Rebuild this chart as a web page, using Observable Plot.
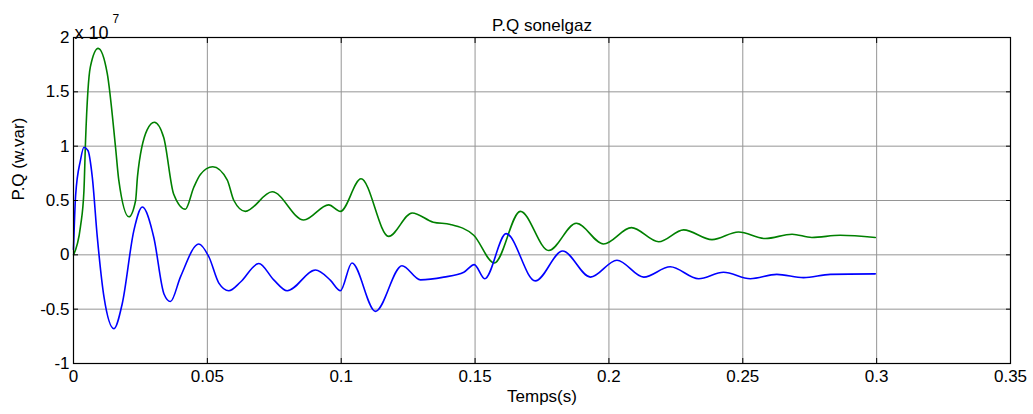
<!DOCTYPE html>
<html>
<head>
<meta charset="utf-8">
<script src="https://cdn.jsdelivr.net/npm/d3@7"></script>
<script src="https://cdn.jsdelivr.net/npm/@observablehq/plot@0.6"></script>
<style>
  html, body { margin: 0; padding: 0; background: #fff; }
  svg { display: block; }
</style>
</head>
<body>
<div id="chart"></div>
<script>
// Time (s) and values (in units of 10^7)
const greenT = [0, 0.0026, 0.0039, 0.0045, 0.0063, 0.0092, 0.0126, 0.0157, 0.0169, 0.0207, 0.0232, 0.0239, 0.0275, 0.0302, 0.0337, 0.0374, 0.0418, 0.0449, 0.0474, 0.0520, 0.0574, 0.0599, 0.0642, 0.0742, 0.0860, 0.0953, 0.0997, 0.1074, 0.1177, 0.1265, 0.1344, 0.1408, 0.1495, 0.1572, 0.1669, 0.1775, 0.1878, 0.1980, 0.2084, 0.2186, 0.2279, 0.2385, 0.2484, 0.2584, 0.2684, 0.2758, 0.2864, 0.2995];
const greenV = [0, 0.26, 0.59, 1.05, 1.73, 1.90, 1.67, 0.99, 0.69, 0.35, 0.50, 0.72, 1.15, 1.22, 1.08, 0.56, 0.42, 0.62, 0.74, 0.81, 0.69, 0.50, 0.40, 0.58, 0.32, 0.46, 0.40, 0.70, 0.17, 0.385, 0.30, 0.28, 0.18, -0.075, 0.40, 0.04, 0.29, 0.10, 0.25, 0.12, 0.23, 0.14, 0.21, 0.15, 0.19, 0.16, 0.18, 0.16];

const blueT = [0, 0.0008, 0.0026, 0.0039, 0.0054, 0.0070, 0.0089, 0.0114, 0.0151, 0.0182, 0.0226, 0.0257, 0.0300, 0.0338, 0.0362, 0.0400, 0.0468, 0.0506, 0.0543, 0.0580, 0.0624, 0.0692, 0.0748, 0.0798, 0.0904, 0.0960, 0.0997, 0.1040, 0.1128, 0.1227, 0.1296, 0.1383, 0.1458, 0.1497, 0.1536, 0.1616, 0.1725, 0.1827, 0.1931, 0.2030, 0.2130, 0.2229, 0.2335, 0.2428, 0.2528, 0.2627, 0.2727, 0.2827, 0.2995];
const blueV = [0.05, 0.55, 0.87, 0.99, 0.96, 0.72, 0.16, -0.39, -0.68, -0.45, 0.23, 0.44, 0.16, -0.36, -0.43, -0.20, 0.10, -0.02, -0.26, -0.33, -0.25, -0.08, -0.23, -0.33, -0.14, -0.235, -0.33, -0.075, -0.52, -0.10, -0.23, -0.205, -0.16, -0.09, -0.22, 0.195, -0.24, 0.035, -0.205, -0.05, -0.205, -0.11, -0.22, -0.16, -0.22, -0.18, -0.21, -0.18, -0.175];

const xTicks = [0, 0.05, 0.1, 0.15, 0.2, 0.25, 0.3, 0.35];
const yTicks = [-1, -0.5, 0, 0.5, 1, 1.5, 2];

const title = "P.Q sonelgaz";
const xLabel = "Temps(s)";
const yLabel = "P.Q (w.var)";

const green = greenT.map((t, i) => ({t, v: greenV[i]}));
const blue = blueT.map((t, i) => ({t, v: blueV[i]}));

const chart = Plot.plot({
  width: 1033,
  height: 414,
  marginLeft: 73,
  marginRight: 23,
  marginTop: 37,
  marginBottom: 51,
  style: {fontFamily: "'Liberation Sans', Arial, sans-serif", fontSize: "17px", color: "#000", background: "#fff"},
  x: {domain: [0, 0.35], axis: null},
  y: {domain: [-1, 2], axis: null},
  marks: [
    Plot.gridX(xTicks, {stroke: "#959595", strokeOpacity: 1}),
    Plot.gridY(yTicks, {stroke: "#959595", strokeOpacity: 1}),
    Plot.line(green, {x: "t", y: "v", stroke: "#008000", strokeWidth: 1.6, curve: "monotone-x"}),
    Plot.line(blue, {x: "t", y: "v", stroke: "#0000ff", strokeWidth: 1.6, curve: "monotone-x"}),
    Plot.frame({stroke: "#000", strokeWidth: 1.2}),
    Plot.axisX(xTicks, {anchor: "bottom", label: null, tickSize: 0, tickPadding: 6, tickFormat: d => String(d), fontSize: 17, fill: "#000"}),
    Plot.axisX(xTicks, {anchor: "bottom", label: null, tickSize: -5, tickFormat: () => "", stroke: "#000"}),
    Plot.axisX(xTicks, {anchor: "top", label: null, tickSize: -5, tickFormat: () => "", stroke: "#000"}),
    Plot.axisY(yTicks, {anchor: "left", label: null, tickSize: 0, tickPadding: 4, tickFormat: d => String(d), fontSize: 17, fill: "#000"}),
    Plot.axisY(yTicks, {anchor: "left", label: null, tickSize: -5, tickFormat: () => "", stroke: "#000"}),
    Plot.axisY(yTicks, {anchor: "right", label: null, tickSize: -5, tickFormat: () => "", stroke: "#000"}),
    Plot.text([title], {frameAnchor: "top", dy: -19, fontSize: 17, fill: "#000"}),
    Plot.text([xLabel], {frameAnchor: "bottom", dy: 38, fontSize: 17, fill: "#000"}),
    Plot.text([yLabel], {frameAnchor: "left", dx: -55, rotate: -90, fontSize: 17, fill: "#000"}),
    Plot.text(["x 10"], {frameAnchor: "top-left", dx: 1, dy: -11, textAnchor: "start", fontSize: 18, fill: "#000"}),
    Plot.text(["7"], {frameAnchor: "top-left", dx: 39, dy: -23, textAnchor: "start", fontSize: 12, fill: "#000"})
  ]
});
document.getElementById("chart").appendChild(chart);
</script>
</body>
</html>
